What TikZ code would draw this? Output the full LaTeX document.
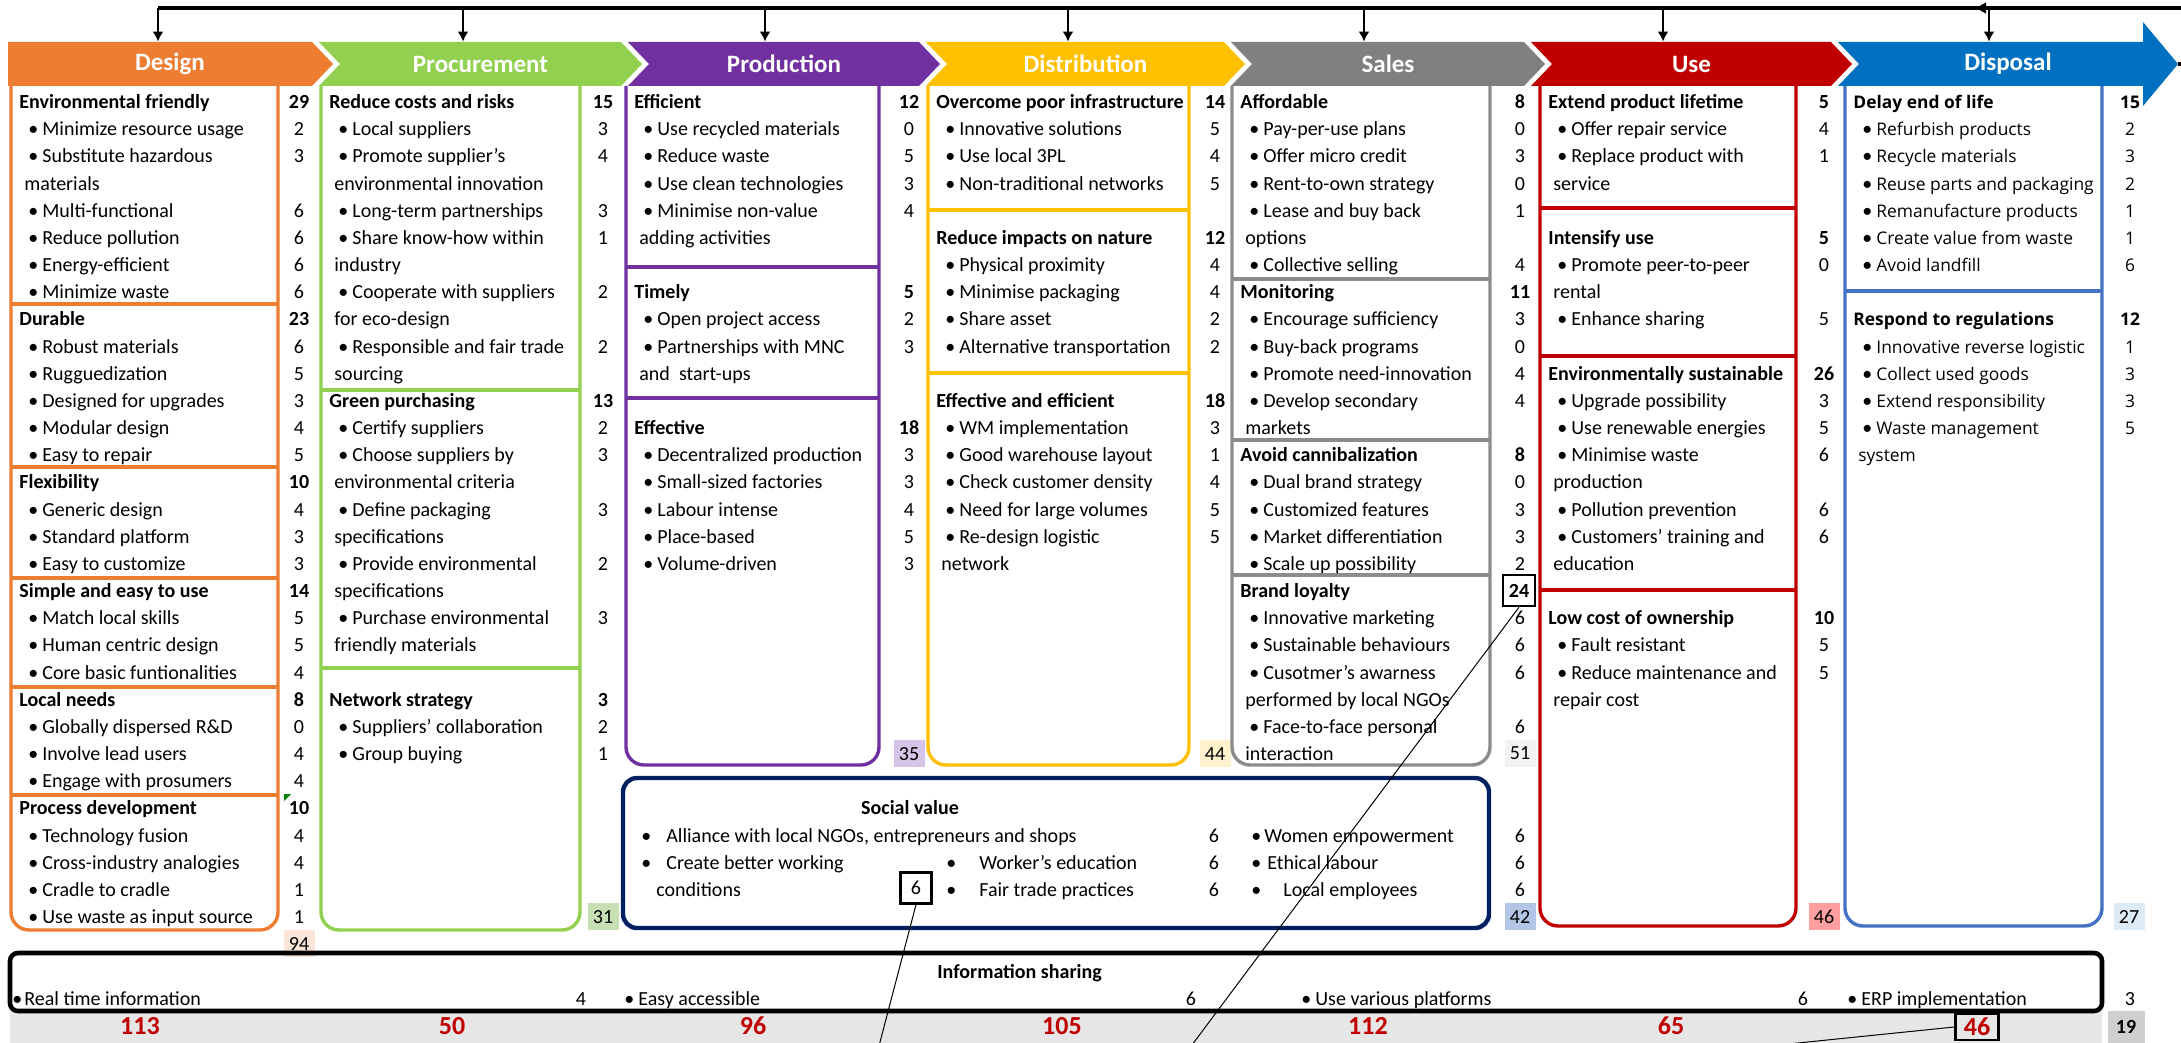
\documentclass[tikz,border=0pt]{standalone}
\usepackage{fontspec}
\setmainfont{Carlito}
\newfontfamily\dispfont{Open Sans}
\newfontfamily\bulfont{Carlito}
\usetikzlibrary{arrows.meta}
\definecolor{cDesign}{HTML}{ED7D31}
\definecolor{cProc}{HTML}{92D050}
\definecolor{cProd}{HTML}{7030A0}
\definecolor{cDist}{HTML}{FFC000}
\definecolor{cSales}{HTML}{808080}
\definecolor{cSalesLine}{HTML}{8C8C8C}
\definecolor{cUse}{HTML}{C00000}
\definecolor{cDisp}{HTML}{0070C0}
\definecolor{cDispLine}{HTML}{4472C4}
\definecolor{cSocial}{HTML}{002060}
\definecolor{cRed}{HTML}{C00000}
\definecolor{cBand}{HTML}{E7E6E6}
\definecolor{f94}{HTML}{FBE5D6}
\definecolor{f31}{HTML}{C6E0B4}
\definecolor{f35}{HTML}{D5C3E8}
\definecolor{f44}{HTML}{FFF2CC}
\definecolor{f51}{HTML}{F2F2F2}
\definecolor{f42}{HTML}{B4C6E7}
\definecolor{f46}{HTML}{FF9F9F}
\definecolor{f27}{HTML}{DDEBF7}
\definecolor{f19}{HTML}{D0CECE}
\newcommand{\colfont}{\fontsize{10}{12}\selectfont}
\newcommand{\bul}{{\bulfont\fontsize{10}{12}\selectfont\textbullet}}

\begin{document}
\begin{tikzpicture}[x=0.5pt,y=-0.5pt,
  txt/.style={inner sep=0pt,font=\colfont},
  rowh/.style={txt,anchor=base west,xshift=4pt,font=\colfont\bfseries},
  rowk/.style={rowh},
  rowb/.style={txt,anchor=base west,xshift=8.5pt,execute at begin node={\makebox[7pt][l]{\bul}}},
  rowc/.style={txt,anchor=base west,xshift=6.5pt},
  numh/.style={txt,anchor=base,font=\colfont\bfseries},
  numb/.style={txt,anchor=base},
  total/.style={txt,minimum width=15.5pt,minimum height=13.5pt},
  marked/.style={draw,line width=1.2pt,inner sep=0pt,minimum width=16pt,minimum height=15.5pt},
  colframe/.style={line width=1.7pt,rounded corners=9pt},
  divider/.style={line width=1.8pt},
  stage/.style={inner sep=0pt,minimum height=22pt,text=white,font=\fontsize{12.5}{15}\selectfont\bfseries},
  arr/.style={-{Latex[length=5pt,width=5.5pt]},line width=1pt},
  trunk/.style={line width=1.6pt},
  sum/.style={txt,text=cRed,font=\fontsize{13}{15}\selectfont\bfseries},
  link/.style={line width=0.5pt}]
\useasboundingbox (0,0) rectangle (2181,1043);
\fill[white] (0,0) rectangle (2181,1043);

% Design
\draw[colframe,cDesign] (11,86) -- (11,930) -- (278,930) -- (278,86);
\foreach \sy in {304,467,578,687,795} \draw[divider,cDesign] (11,\sy) -- (278,\sy);
\foreach \ry/\kd/\tx/\nm in {0/h/{Environmental friendly}/29, 1/b/{Minimize resource usage}/2,
  2/b/{Substitute hazardous}/3, 3/c/{materials}/-, 4/b/{Multi-functional}/6, 5/b/{Reduce pollution}/6,
  6/b/{Energy-efficient}/6, 7/b/{Minimize waste}/6, 8/h/{Durable}/23, 9/b/{Robust materials}/6,
  10/b/{Rugguedization}/5, 11/b/{Designed for upgrades}/3, 12/b/{Modular design}/4, 13/b/{Easy to repair}/5,
  14/h/{Flexibility}/10, 15/b/{Generic design}/4, 16/b/{Standard platform}/3, 17/b/{Easy to customize}/3,
  18/h/{Simple and easy to use}/14, 19/b/{Match local skills}/5, 20/b/{Human centric design}/5,
  21/b/{Core basic funtionalities}/4, 22/h/{Local needs}/8, 23/b/{Globally dispersed R\&D}/0,
  24/b/{Involve lead users}/4, 25/b/{Engage with prosumers}/4, 26/h/{Process development}/10,
  27/b/{Technology fusion}/4, 28/b/{Cross-industry analogies}/4, 29/b/{Cradle to cradle}/1,
  30/b/{Use waste as input source}/1}{
  \node[row\kd] (des\ry) at (11,{108.5+27.17*\ry}) {\tx};
  \if c\kd\else\node[num\kd] (desn\ry) at (299,{108.5+27.17*\ry}) {\nm};\fi
}
\fill[green!50!black] (284,794) -- (291,794) -- (284,801) -- cycle;
\node[total,fill=f94] (desT) at (299,{101.5+27.17*31}) {94};

% Procurement
\draw[colframe,cProc] (321,86) -- (321,930) -- (580,930) -- (580,86);
\foreach \sy in {390,668} \draw[divider,cProc] (321,\sy) -- (580,\sy);
\foreach \ry/\kd/\tx/\nm in {0/h/{Reduce costs and risks}/15, 1/b/{Local suppliers}/3,
  2/b/{Promote supplier's}/4, 3/c/{environmental innovation}/-, 4/b/{Long-term partnerships}/3,
  5/b/{Share know-how within}/1, 6/c/{industry}/-, 7/b/{Cooperate with suppliers}/2, 8/c/{for eco-design}/-,
  9/b/{Responsible and fair trade}/2, 10/c/{sourcing}/-, 11/h/{Green purchasing}/13,
  12/b/{Certify suppliers}/2, 13/b/{Choose suppliers by}/3, 14/c/{environmental criteria}/-,
  15/b/{Define packaging}/3, 16/c/{specifications}/-, 17/b/{Provide environmental}/2,
  18/c/{specifications}/-, 19/b/{Purchase environmental}/3, 20/c/{friendly materials}/-,
  22/h/{Network strategy}/3, 23/b/{Suppliers' collaboration}/2, 24/b/{Group buying}/1}{
  \node[row\kd] (pro\ry) at (321,{108.5+27.17*\ry}) {\tx};
  \if c\kd\else\node[num\kd] (pron\ry) at (603,{108.5+27.17*\ry}) {\nm};\fi
}
\node[total,fill=f31] (proT) at (603,{101.5+27.17*30}) {31};

% Production
\draw[colframe,cProd] (626,86) -- (626,765) -- (879,765) -- (879,86);
\foreach \sy in {267,398} \draw[divider,cProd] (626,\sy) -- (879,\sy);
\foreach \ry/\kd/\tx/\nm in {0/h/{Efficient}/12, 1/b/{Use recycled materials}/0, 2/b/{Reduce waste}/5,
  3/b/{Use clean technologies}/3, 4/b/{Minimise non-value}/4, 5/c/{adding activities}/-,
  7/h/{Timely}/5, 8/b/{Open project access}/2, 9/b/{Partnerships with MNC}/3, 10/c/{and\ \ start-ups}/-,
  12/h/{Effective}/18, 13/b/{Decentralized production}/3, 14/b/{Small-sized factories}/3,
  15/b/{Labour intense}/4, 16/b/{Place-based}/5, 17/b/{Volume-driven}/3}{
  \node[row\kd] (prd\ry) at (626,{108.5+27.17*\ry}) {\tx};
  \if c\kd\else\node[num\kd] (prdn\ry) at (909,{108.5+27.17*\ry}) {\nm};\fi
}
\node[total,fill=f35] (prdT) at (909,{101.5+27.17*24}) {35};

% Distribution
\draw[colframe,cDist] (928,86) -- (928,765) -- (1189,765) -- (1189,86);
\foreach \sy in {210,373} \draw[divider,cDist] (928,\sy) -- (1189,\sy);
\foreach \ry/\kd/\tx/\nm in {0/h/{Overcome poor infrastructure}/14, 1/b/{Innovative solutions}/5,
  2/b/{Use local 3PL}/4, 3/b/{Non-traditional networks}/5, 5/h/{Reduce impacts on nature}/12,
  6/b/{Physical proximity}/4, 7/b/{Minimise packaging}/4, 8/b/{Share asset}/2,
  9/b/{Alternative transportation}/2, 11/h/{Effective and efficient}/18, 12/b/{WM implementation}/3,
  13/b/{Good warehouse layout}/1, 14/b/{Check customer density}/4, 15/b/{Need for large volumes}/5,
  16/b/{Re-design logistic}/5, 17/c/{network}/-}{
  \node[row\kd] (dis\ry) at (928,{108.5+27.17*\ry}) {\tx};
  \if c\kd\else\node[num\kd] (disn\ry) at (1215,{108.5+27.17*\ry}) {\nm};\fi
}
\node[total,fill=f44] (disT) at (1215,{101.5+27.17*24}) {44};

% Sales
\draw[colframe,cSalesLine] (1232,86) -- (1232,765) -- (1490,765) -- (1490,86);
\foreach \sy in {279,440,575} \draw[divider,cSalesLine] (1232,\sy) -- (1490,\sy);
\foreach \ry/\kd/\tx/\nm in {0/h/{Affordable}/8, 1/b/{Pay-per-use plans}/0, 2/b/{Offer micro credit}/3,
  3/b/{Rent-to-own strategy}/0, 4/b/{Lease and buy back}/1, 5/c/{options}/-, 6/b/{Collective selling}/4,
  7/h/{Monitoring}/11, 8/b/{Encourage sufficiency}/3, 9/b/{Buy-back programs}/0,
  10/b/{Promote need-innovation}/4, 11/b/{Develop secondary}/4, 12/c/{markets}/-,
  13/h/{Avoid cannibalization}/8, 14/b/{Dual brand strategy}/0, 15/b/{Customized features}/3,
  16/b/{Market differentiation}/3, 17/b/{Scale up possibility}/2, 18/k/{Brand loyalty}/24,
  19/b/{Innovative marketing}/6, 20/b/{Sustainable behaviours}/6, 21/b/{Cusotmer's awarness}/6,
  22/c/{performed by local NGOs}/-, 23/b/{Face-to-face personal}/6, 24/c/{interaction}/-}{
  \node[row\kd] (sal\ry) at (1232,{108.5+27.17*\ry}) {\tx};
  \if c\kd\else\if k\kd\else\node[num\kd] (saln\ry) at (1520,{108.5+27.17*\ry}) {\nm};\fi\fi
}
\node[marked,font=\colfont\bfseries] (sl24) at (1519,{101.5+27.17*18}) {24};
\node[total,fill=f51] (salT) at (1520,{101.5+27.17*24}) {51};

% Use
\draw[colframe,cUse] (1540,86) -- (1540,926) -- (1796,926) -- (1796,86);
\foreach \sy in {208,356,590} \draw[divider,cUse] (1540,\sy) -- (1796,\sy);
\foreach \ry/\kd/\tx/\nm in {0/h/{Extend product lifetime}/5, 1/b/{Offer repair service}/4,
  2/b/{Replace product with}/1, 3/c/{service}/-, 5/h/{Intensify use}/5, 6/b/{Promote peer-to-peer}/0,
  7/c/{rental}/-, 8/b/{Enhance sharing}/5, 10/h/{Environmentally sustainable}/26,
  11/b/{Upgrade possibility}/3, 12/b/{Use renewable energies}/5, 13/b/{Minimise waste}/6,
  14/c/{production}/-, 15/b/{Pollution prevention}/6, 16/b/{Customers' training and}/6,
  17/c/{education}/-, 19/h/{Low cost of ownership}/10, 20/b/{Fault resistant}/5,
  21/b/{Reduce maintenance and}/5, 22/c/{repair cost}/-}{
  \node[row\kd] (use\ry) at (1540,{108.5+27.17*\ry}) {\tx};
  \if c\kd\else\node[num\kd] (usen\ry) at (1824,{108.5+27.17*\ry}) {\nm};\fi
}
\node[total,fill=f46] (useT) at (1824,{101.5+27.17*30}) {46};

% Disposal
\draw[colframe,cDispLine] (1845,86) -- (1845,926) -- (2102,926) -- (2102,86);
\draw[divider,cDispLine] (1845,291) -- (2102,291);
\begin{scope}
\renewcommand{\colfont}{\dispfont\fontsize{8.7}{11}\selectfont}
\foreach \ry/\kd/\tx/\nm in {0/h/{Delay end of life}/15, 1/b/{Refurbish products}/2, 2/b/{Recycle materials}/3,
  3/b/{Reuse parts and packaging}/2, 4/b/{Remanufacture products}/1, 5/b/{Create value from waste}/1,
  6/b/{Avoid landfill}/6, 8/h/{Respond to regulations}/12, 9/b/{Innovative reverse logistic}/1,
  10/b/{Collect used goods}/3, 11/b/{Extend responsibility}/3, 12/b/{Waste management}/5,
  13/c/{system}/-}{
  \node[row\kd] (dsp\ry) at (1845,{108.5+27.17*\ry}) {\tx};
  \if c\kd\else\node[num\kd] (dspn\ry) at (2130,{108.5+27.17*\ry}) {\nm};\fi
}
\end{scope}
\node[total,fill=f27] (dspT) at (2129,{101.5+27.17*30}) {27};

% Social value
\draw[line width=2.2pt,rounded corners=7pt,cSocial] (623,778) rectangle (1489,928);
\node[txt,anchor=base,font=\colfont\bfseries] (svtitle) at (910,814.9) {Social value};
\node[txt,anchor=base west] (sv1) at (641,842.1) {\makebox[12.5pt][l]{\bul}Alliance with local NGOs, entrepreneurs and shops};
\node[numb] (sv1n) at (1214,842.1) {6};
\node[txt,anchor=base west] (sv2) at (1251,842.1) {\makebox[6.5pt][l]{\bul}Women empowerment};
\node[numb] (sv2n) at (1520,842.1) {6};
\node[txt,anchor=base west] (sv3) at (641,869.3) {\makebox[12.5pt][l]{\bul}Create better working};
\node[txt,anchor=base west] (sv4) at (946,869.3) {\makebox[16.5pt][l]{\bul}Worker's education};
\node[numb] (sv4n) at (1214,869.3) {6};
\node[txt,anchor=base west] (sv5) at (1251,869.3) {\makebox[8pt][l]{\bul}Ethical labour};
\node[numb] (sv5n) at (1520,869.3) {6};
\node[txt,anchor=base west] (sv3b) at (656,896.4) {conditions};
\node[marked,minimum width=15.5pt] (sv6) at (916,888) {6};
\node[txt,anchor=base west] (sv7) at (946,896.4) {\makebox[16.5pt][l]{\bul}Fair trade practices};
\node[numb] (sv7n) at (1214,896.4) {6};
\node[txt,anchor=base west] (sv8) at (1251,896.4) {\makebox[16pt][l]{\bul}Local employees};
\node[numb] (sv8n) at (1520,896.4) {6};
\node[total,fill=f42] (socT) at (1520,{101.5+27.17*30}) {42};

% Information sharing
\fill[cBand] (10,1011) rectangle (2102,1043);
\draw[line width=2.3pt,rounded corners=4pt] (10,953) rectangle (2102,1011);
\node[txt,anchor=base west,font=\colfont\bfseries] (info) at (937,978) {Information sharing};
\node[txt,anchor=base west] (is1) at (12,1005) {\makebox[6pt][l]{\bul}Real time information};
\node[numb] (is1n) at (581,1005) {4};
\node[txt,anchor=base west] (is2) at (624,1005) {\makebox[7pt][l]{\bul}Easy accessible};
\node[numb] (is2n) at (1191,1005) {6};
\node[txt,anchor=base west] (is3) at (1301,1005) {\makebox[7pt][l]{\bul}Use various platforms};
\node[numb] (is3n) at (1803,1005) {6};
\node[txt,anchor=base west] (is4) at (1847,1005) {\makebox[7pt][l]{\bul}ERP implementation};
\node[numb] (is4n) at (2130,1005) {3};
\node[total,fill=f19,minimum width=18.5pt,minimum height=16pt,font=\colfont\bfseries] (allT) at (2126,1027) {19};
\foreach \x/\v [count=\i] in {140/113,452/50,753/96,1062/105,1368/112,1671/65}
  \node[sum] (sum\i) at (\x,1026) {\v};
\node[sum,marked,text=cRed,minimum width=21.5pt,minimum height=13pt] (sum7) at (1977,1027) {46};

% stages
\fill[cDesign] (8,42) -- (312,42) -- (333,64) -- (312,86) -- (8,86) -- cycle;
\node[stage] (design) at (170,64) {Design};
\foreach \xa/\xb/\c/\nm/\tx in {319/621/cProc/procurement/Procurement, 628/919/cProd/production/Production,
  926/1224/cDist/distribution/Distribution, 1231/1524/cSales/sales/Sales, 1531/1831/cUse/use/Use}{
  \fill[\c] (\xa,42) -- (\xb,42) -- ++(21,22) -- (\xb,86) -- (\xa,86) -- ++(21,-22) -- cycle;
  \node[stage] (\nm) at ({(\xa+\xb+21)/2},64) {\tx};
}
\fill[cDisp] (1838,42) -- (2143,42) -- (2143,22) -- (2178,64) -- (2143,106) -- (2143,86) -- (1838,86) -- (1859,64) -- cycle;
\node[stage] (disposal) at (2008,64) {Disposal};

% flow back to every stage
\coordinate (tipD) at (2178,64);
\coordinate (loopR) at (2195,8);
\coordinate (loopL) at (158,8);
\coordinate (back) at (1974,8);
\draw[trunk] (tipD) -- (tipD -| loopR) -- (loopR) -- (loopL);
\draw[trunk,-{Latex[length=6pt,width=6pt]}] (loopR) -- (back);
\foreach \x/\nm in {158/design,463/procurement,765/production,1068/distribution,1364/sales,1663/use,1989/disposal}{
  \coordinate (in-\nm) at (\x,8);
  \draw[arr] (in-\nm) -- (in-\nm |- \nm.north);
}

% call-out lines
\coordinate (linkA) at (874,1065);
\coordinate (linkB) at (1177,1065);
\coordinate (linkC) at (1700,1053);
\draw[link] (sv6.south) -- (linkA);
\draw[link] (sl24.south) -- (linkB);
\draw[link] (sum7.west) -- (linkC);
\end{tikzpicture}
\end{document}
